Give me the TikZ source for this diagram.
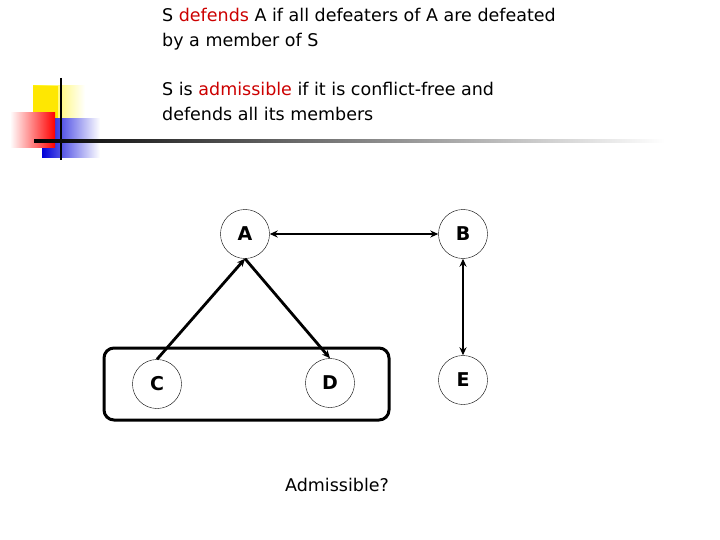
\documentclass[tikz,border=0pt]{standalone}
\usepackage{fontspec}
\setmainfont{DejaVu Sans}
\usetikzlibrary{arrows.meta}
\definecolor{dred}{RGB}{204,0,0}
\begin{document}
\begin{tikzpicture}[x=1pt,y=-1pt,
  arg/.style={circle,draw,thin,minimum size=49pt,inner sep=0pt,font=\bfseries\fontsize{19}{21}\selectfont},
  edge/.style={line width=2.8pt,-{Stealth[length=8pt,width=7pt]}},
  bidir/.style={line width=2.8pt,{Stealth[length=8pt,width=7pt]}-{Stealth[length=8pt,width=7pt]}},
  txt/.style={anchor=north west,align=left,inner sep=0pt,font=\fontsize{17.5}{25}\selectfont}]
\useasboundingbox (0,0) rectangle (720,540);
% decoration
\shade[left color=yellow!90!orange,right color=white] (33,86) rectangle (85,120);
\fill[yellow!90!orange] (33,86) rectangle (58,120);
\shade[left color=blue!85!black,right color=white] (42,119) rectangle (100,158);
\shade[left color=white,right color=red] (10,113) rectangle (55,148);
\draw[line width=2pt] (61,78) -- (61,160);
\shade[left color=black,right color=white] (34,140) rectangle (665,142.5);
% texts
\node[txt] (t1) at (162,8) {S {\color{dred}defends} A if all defeaters of A are defeated\\by a member of S};
\node[txt] (t2) at (162,82) {S is {\color{dred}admissible} if it is conflict-free and\\defends all its members};
% graph
\node[arg] (A) at (245,234) {A};
\node[arg] (B) at (463,234) {B};
\node[arg] (C) at (157,384) {C};
\node[arg] (D) at (330,383) {D};
\node[arg] (E) at (463,380) {E};
\draw[line width=3pt,rounded corners=10pt] (104,348) rectangle (389,420);
\draw[edge] (C.north) -- (A.south);
\draw[edge] (A.south) -- (D.north);
\draw[bidir] (A) -- (B);
\draw[bidir] (B) -- (E);
\node[font=\fontsize{17.5}{20}\selectfont] (adm) at (337,485) {Admissible?};
\end{tikzpicture}
\end{document}
